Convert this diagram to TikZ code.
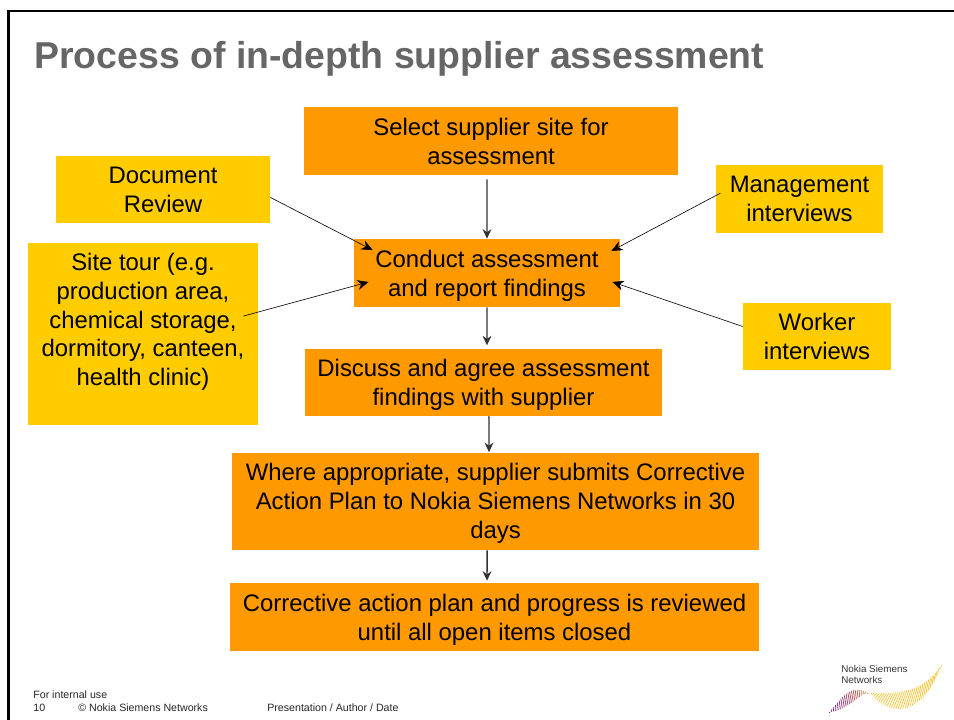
\documentclass[tikz,border=0pt]{standalone}
\usepackage{fontspec}
\setmainfont{Liberation Sans}
\usetikzlibrary{arrows.meta}
\definecolor{stepcolor}{HTML}{FF9900}
\definecolor{inputcolor}{HTML}{FFCC00}
\definecolor{titlecolor}{HTML}{666666}
\definecolor{logopurple}{HTML}{7A2A90}
\definecolor{logored}{HTML}{D9875A}
\definecolor{logoyellow}{HTML}{F4BE1E}
\tikzset{
	stepbox/.style={fill=stepcolor, align=center, font=\fontsize{13.6pt}{16.4pt}\selectfont, inner sep=0pt},
	inputbox/.style={fill=inputcolor, align=center, font=\fontsize{13.6pt}{16.4pt}\selectfont, inner sep=0pt},
	flowline/.style={-{Stealth[length=5.4pt,width=5pt]}, line width=0.8pt, black!80},
	inputline/.style={-{Stealth[length=6.4pt,width=5.6pt]}, line width=0.35pt},
	footnote/.style={anchor=base west, inner sep=0pt, font=\fontsize{6.05pt}{7pt}\selectfont, black!85},
	declare function={
		bez(\s,\a,\b,\c,\d)=(1-\s)^3*\a+3*(1-\s)^2*\s*\b+3*(1-\s)*\s^2*\c+\s^3*\d;
	},
}
\begin{document}
\begin{tikzpicture}[x=0.02cm, y=-0.02cm]
	\useasboundingbox (0,0) rectangle (954,720);
	\draw[line width=1.5pt] (8.5,725) -- (8.5,11) -- (960,11);
	\node (title) [anchor=base west, inner sep=0pt, text=titlecolor, font=\fontsize{21.3pt}{24pt}\selectfont\bfseries] at (34,68) {Process of in-depth supplier assessment};

	\node (select) [stepbox, minimum width=7.48cm, minimum height=1.36cm, text depth=-1.2pt] at (491,141) {Select supplier site for\\assessment};
	\node (conduct) [stepbox, minimum width=5.32cm, minimum height=1.36cm, text depth=-0.4pt] at (487,273) {Conduct assessment\\and report findings};
	\node (discuss) [stepbox, minimum width=7.14cm, minimum height=1.34cm, text depth=0.6pt] at (483.5,382.5) {Discuss and agree assessment\\findings with supplier};
	\node (plan) [stepbox, minimum width=10.54cm, minimum height=1.94cm, text depth=0.6pt] at (495.5,501.5) {Where appropriate, supplier submits Corrective\\Action Plan to Nokia Siemens Networks in 30\\days};
	\node (review) [stepbox, minimum width=10.58cm, minimum height=1.36cm, text depth=-0.4pt] at (494.5,617) {Corrective action plan and progress is reviewed\\until all open items closed};

	\node (document) [inputbox, minimum width=4.28cm, minimum height=1.34cm, text depth=-1.8pt] at (163,189.5) {Document\\Review};
	\node (tour) [inputbox, minimum width=4.6cm, minimum height=3.64cm, text depth=0.58cm] at (143,334) {Site tour (e.g.\\production area,\\chemical storage,\\dormitory, canteen,\\health clinic)};
	\node (management) [inputbox, minimum width=3.34cm, minimum height=1.36cm, text depth=-1.8pt] at (799.5,199) {Management\\interviews};
	\node (worker) [inputbox, minimum width=2.96cm, minimum height=1.34cm] at (817,336.5) {Worker\\interviews};

	\coordinate (conductdoc) at ([xshift=10.8pt,yshift=-6.5pt]conduct.north west);
	\coordinate (conducttour) at ([xshift=8.5pt,yshift=-5.1pt]conduct.west);
	\coordinate (conductman) at ([xshift=-5.1pt,yshift=-7pt]conduct.north east);
	\coordinate (conductwork) at ([xshift=-4.5pt,yshift=-5.1pt]conduct.east);

	\draw[flowline] ([xshift=-2.3pt,yshift=-2.3pt]select.south) -- (conduct.north);
	\draw[flowline] (conduct.south) -- ([xshift=2pt,yshift=1.9pt]discuss.north);
	\draw[flowline] ([xshift=3.1pt]discuss.south) -- ([xshift=-3.7pt,yshift=0.3pt]plan.north);
	\draw[flowline] ([xshift=-4.8pt]plan.south) -- ([xshift=-4.25pt,yshift=1.1pt]review.north);

	\draw[inputline] ([yshift=-4.5pt]document.east) -- (conductdoc);
	\draw[inputline] ([xshift=-8.5pt,yshift=10.2pt]tour.east) -- (conducttour);
	\draw[inputline] ([xshift=2.8pt,yshift=3.4pt]management.west) -- (conductman);
	\draw[inputline] ([yshift=5.7pt]worker.west) -- (conductwork);

	\node (internal) [footnote] at (33,698) {For internal use};
	\node (pagenum) [footnote] at (33,711) {10};
	\node (copyright) [footnote] at (78,711) {© Nokia Siemens Networks};
	\node (deck) [footnote] at (267,711) {Presentation / Author / Date};

	\node (logotext) [anchor=north west, inner sep=0pt, align=left, font=\fontsize{5.6pt}{6.2pt}\selectfont, black!80] at (841,665) {Nokia Siemens\\Networks};
	\foreach \i in {0,...,20} {
		\pgfmathsetmacro{\t}{\i/20}
		\pgfmathsetmacro{\mix}{100*\t}
		\draw[line width=0.5pt, color=logored!\mix!logopurple]
			({bez(\t,830,843,852,868)},{bez(\t,712,695,684,693)}) -- ({bez(\t,830,848,856,868)-1.5},{bez(\t,712,711,698,693)});
	}
	\foreach \i in {0,...,34} {
		\pgfmathsetmacro{\t}{\i/34}
		\draw[line width=0.35pt, color=logoyellow]
			({bez(\t,872,900,925,942)},{bez(\t,693,695,690,665)}) -- ({bez(\t,872,888,925,942)-1.5},{bez(\t,693,716,720,665)});
	}
\end{tikzpicture}
\end{document}
